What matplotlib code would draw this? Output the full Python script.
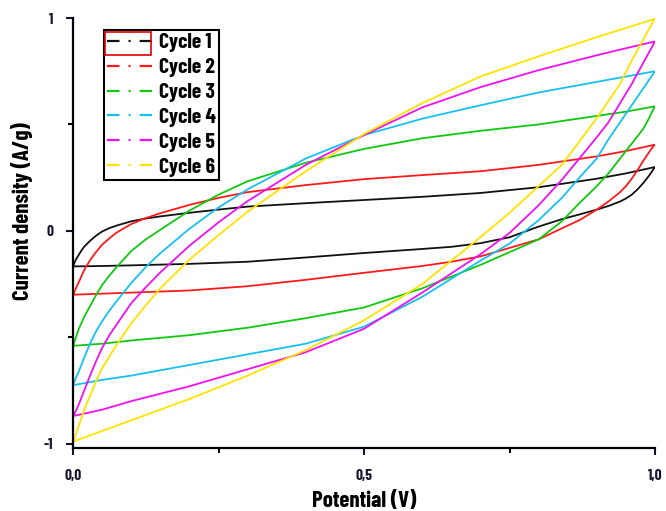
import matplotlib
matplotlib.use("Agg")
import matplotlib.pyplot as plt
from matplotlib import font_manager
from matplotlib.lines import Line2D
from matplotlib.patches import Rectangle
from matplotlib.ticker import FixedLocator

# Potential grids (V) for the anodic (forward) and cathodic (reverse) sweeps
potential_anodic = [0.0, 0.0025, 0.005, 0.01, 0.015, 0.02, 0.03, 0.04, 0.05, 0.0625,
                    0.075, 0.1, 0.125, 0.15, 0.2, 0.25, 0.3, 0.4, 0.5, 0.6,
                    0.7, 0.8, 0.9, 0.95, 1.0]
potential_cathodic = [1.0, 0.995, 0.99, 0.98, 0.97, 0.96, 0.95, 0.94, 0.92, 0.9,
                      0.87, 0.84, 0.8, 0.75, 0.7, 0.65, 0.6, 0.5, 0.4, 0.3,
                      0.2, 0.1, 0.05, 0.0]

# Current density (A/g), anodic branch of each cycle
cycle1_anodic = [-0.167, -0.15, -0.135, -0.112, -0.09, -0.072, -0.045, -0.022, -0.003, 0.013,
                 0.025, 0.045, 0.058, 0.068, 0.085, 0.10, 0.114, 0.13, 0.145, 0.16,
                 0.178, 0.205, 0.245, 0.27, 0.30]
cycle2_anodic = [-0.30, -0.285, -0.27, -0.24, -0.21, -0.18, -0.135, -0.098, -0.065, -0.035,
                 -0.008, 0.032, 0.06, 0.083, 0.122, 0.155, 0.182, 0.215, 0.243, 0.262,
                 0.28, 0.31, 0.35, 0.375, 0.405]
cycle3_anodic = [-0.54, -0.52, -0.50, -0.46, -0.43, -0.40, -0.35, -0.30, -0.255, -0.21,
                 -0.17, -0.095, -0.04, 0.005, 0.095, 0.17, 0.233, 0.32, 0.385, 0.435,
                 0.47, 0.50, 0.54, 0.56, 0.585]
cycle4_anodic = [-0.726, -0.708, -0.69, -0.66, -0.625, -0.59, -0.525, -0.47, -0.425, -0.375,
                 -0.33, -0.245, -0.17, -0.105, 0.01, 0.11, 0.195, 0.34, 0.45, 0.527,
                 0.59, 0.65, 0.70, 0.725, 0.75]
cycle5_anodic = [-0.87, -0.858, -0.845, -0.815, -0.78, -0.745, -0.675, -0.61, -0.55, -0.49,
                 -0.44, -0.34, -0.265, -0.195, -0.07, 0.04, 0.14, 0.31, 0.45, 0.58,
                 0.675, 0.755, 0.825, 0.858, 0.89]
cycle6_anodic = [-0.99, -0.972, -0.955, -0.915, -0.875, -0.835, -0.77, -0.705, -0.645, -0.59,
                 -0.535, -0.435, -0.35, -0.27, -0.135, -0.02, 0.09, 0.28, 0.455, 0.60,
                 0.725, 0.82, 0.91, 0.953, 0.996]

# Current density (A/g), cathodic branch of each cycle
cycle1_cathodic = [0.30, 0.28, 0.26, 0.225, 0.195, 0.17, 0.152, 0.138, 0.117, 0.10,
                   0.077, 0.055, 0.02, -0.03, -0.058, -0.075, -0.085, -0.104, -0.125, -0.145,
                   -0.155, -0.162, -0.165, -0.167]
cycle2_cathodic = [0.405, 0.39, 0.37, 0.33, 0.285, 0.245, 0.21, 0.182, 0.138, 0.10,
                   0.05, 0.012, -0.04, -0.08, -0.12, -0.145, -0.165, -0.197, -0.23, -0.26,
                   -0.28, -0.29, -0.295, -0.30]
cycle3_cathodic = [0.585, 0.56, 0.53, 0.48, 0.445, 0.41, 0.375, 0.34, 0.27, 0.21,
                   0.13, 0.045, -0.04, -0.10, -0.16, -0.215, -0.27, -0.36, -0.41, -0.455,
                   -0.49, -0.515, -0.53, -0.54]
cycle4_cathodic = [0.75, 0.73, 0.71, 0.67, 0.63, 0.59, 0.55, 0.51, 0.43, 0.34,
                   0.25, 0.155, 0.05, -0.06, -0.14, -0.225, -0.31, -0.45, -0.53, -0.58,
                   -0.63, -0.68, -0.70, -0.725]
cycle5_cathodic = [0.89, 0.865, 0.84, 0.79, 0.74, 0.69, 0.645, 0.60, 0.51, 0.44,
                   0.34, 0.24, 0.12, -0.01, -0.11, -0.20, -0.29, -0.46, -0.57, -0.65,
                   -0.73, -0.80, -0.84, -0.87]
cycle6_cathodic = [1.00, 0.975, 0.95, 0.90, 0.85, 0.80, 0.745, 0.69, 0.61, 0.53,
                   0.42, 0.31, 0.21, 0.085, -0.03, -0.14, -0.25, -0.42, -0.56, -0.68,
                   -0.79, -0.89, -0.94, -0.99]

cycle_labels = ["Cycle 1", "Cycle 2", "Cycle 3", "Cycle 4", "Cycle 5", "Cycle 6"]
cycle_colors = ["#111111", "#ff1a1a", "#10c810", "#18c0f0", "#f010f0", "#ffe200"]

x_ticks = [0.0, 0.5, 1.0]
x_tick_labels = ["0,0", "0,5", "1,0"]
x_minor_ticks = [0.25, 0.75]
y_ticks = [-1, 0, 1]
y_tick_labels = ["-1", "0", "1"]
y_minor_ticks = [-0.5, 0.5]

anodic = [cycle1_anodic, cycle2_anodic, cycle3_anodic,
          cycle4_anodic, cycle5_anodic, cycle6_anodic]
cathodic = [cycle1_cathodic, cycle2_cathodic, cycle3_cathodic,
            cycle4_cathodic, cycle5_cathodic, cycle6_cathodic]

# Condensed bold face for all text
available = {f.name for f in font_manager.fontManager.ttflist}
preferred = ["Barlow Condensed", "Roboto Condensed", "Saira SemiCondensed",
             "Sofia Sans Condensed", "DejaVu Sans"]
family = next(name for name in preferred if name in available)
plt.rcParams["font.family"] = [family, "DejaVu Sans"]
plt.rcParams["font.weight"] = "bold"
plt.rcParams["lines.scale_dashes"] = False

fig = plt.figure(figsize=(6.66, 5.11), dpi=100)
ax = fig.add_axes([73 / 666, 1 - 448 / 511, 582 / 666, 430 / 511])

for up, down, color in zip(anodic, cathodic, cycle_colors):
    ax.plot(potential_anodic + potential_cathodic, up + down,
            color=color, lw=1.3, solid_joinstyle="round")

ax.set_xlim(0, 1)
ax.set_ylim(-1.02, 1.0)

for side in ("top", "right"):
    ax.spines[side].set_visible(False)
for side in ("left", "bottom"):
    ax.spines[side].set_linewidth(1.6)

ax.xaxis.set_major_locator(FixedLocator(x_ticks))
ax.xaxis.set_minor_locator(FixedLocator(x_minor_ticks))
ax.yaxis.set_major_locator(FixedLocator(y_ticks))
ax.yaxis.set_minor_locator(FixedLocator(y_minor_ticks))
ax.set_xticklabels(x_tick_labels)
ax.set_yticklabels(y_tick_labels)
ax.tick_params(which="major", direction="out", length=5, width=1.5,
               labelsize=11, colors="#15152a")
ax.tick_params(which="minor", direction="out", length=3.5, width=1.5)
ax.tick_params(axis="x", which="major", pad=10)
ax.tick_params(axis="y", which="major", pad=9)

ax.set_xlabel("Potential (V)", fontsize=16.5, fontweight="bold", labelpad=6)
ax.set_ylabel("Current density (A/g)", fontsize=16.5, fontweight="bold")
ax.yaxis.set_label_coords(-0.069, 0.551)

handles = [Line2D([], [], color=c, lw=1.6, dashes=(9, 6.5, 1.5, 6.5)) for c in cycle_colors]
leg = ax.legend(handles, cycle_labels, loc="upper left",
                bbox_to_anchor=(0.053, 0.972), borderaxespad=0,
                fontsize=15.5, frameon=True, fancybox=False, framealpha=1,
                edgecolor="black", handlelength=2.1, handletextpad=0.3,
                labelspacing=0.27, borderpad=0.15)
leg.get_frame().set_linewidth(1.5)
for t in leg.get_texts():
    t.set_fontweight("bold")

# Selection box around the first legend key
fig.add_artist(Rectangle((105 / 666, 1 - 55 / 511), 46 / 666, 23 / 511,
                         transform=fig.transFigure, fill=False,
                         edgecolor="#e00000", lw=1.2))

fig.savefig("out.png", dpi=100)
